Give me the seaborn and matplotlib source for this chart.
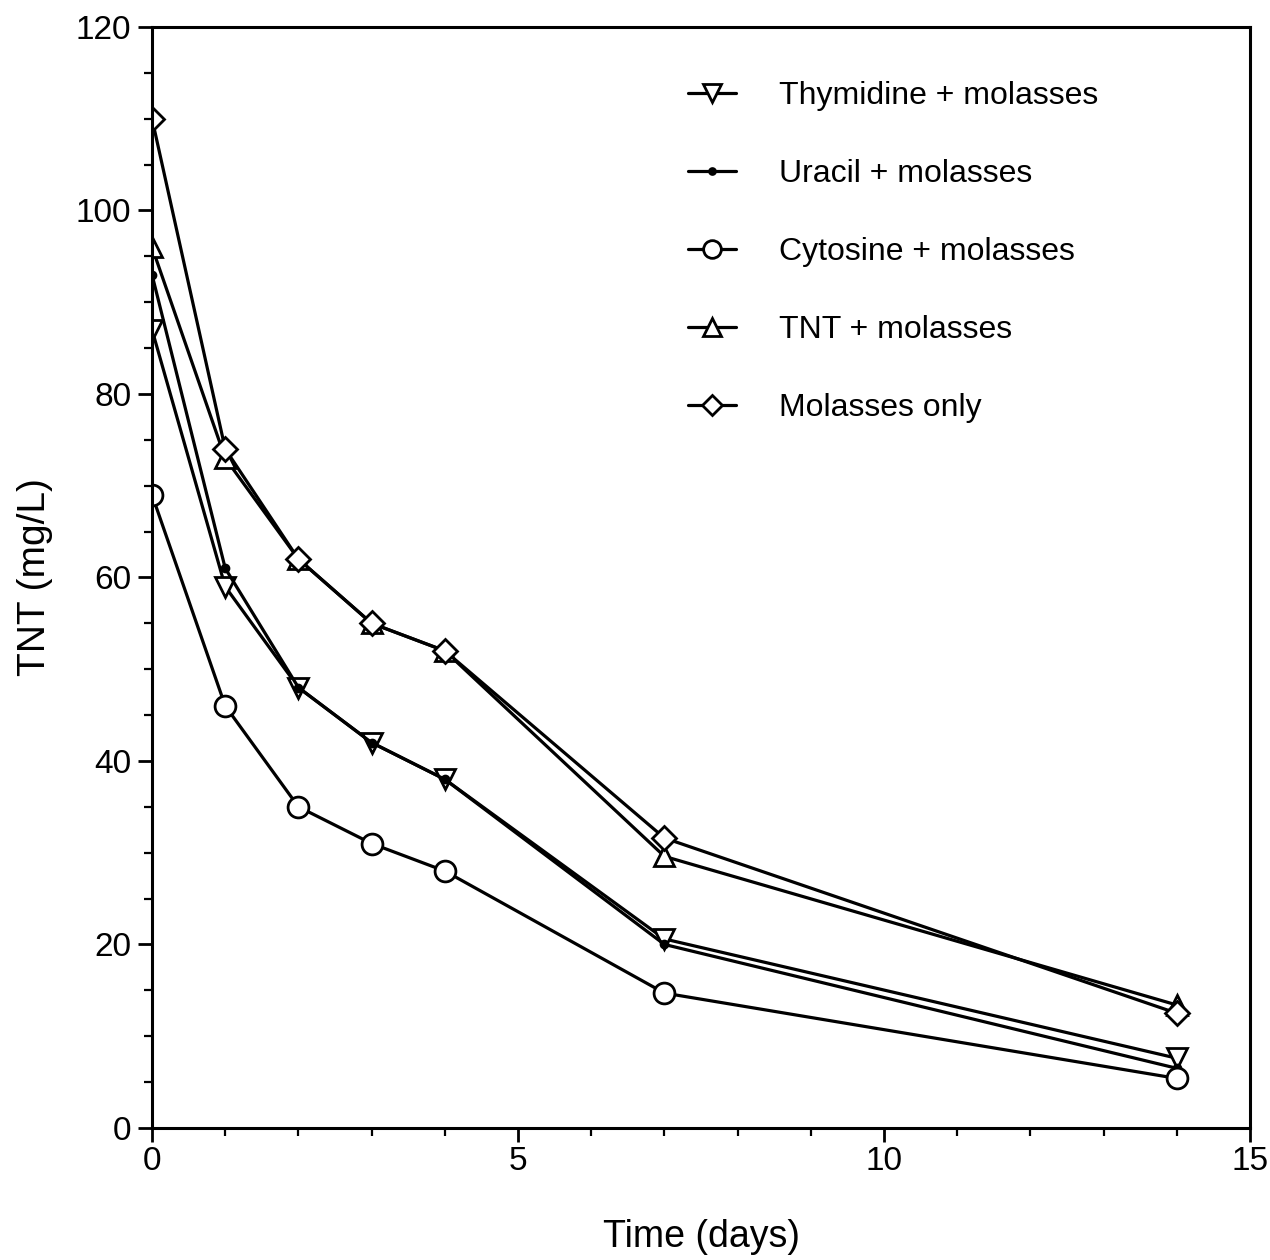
import numpy as np
import pandas as pd
import matplotlib
matplotlib.use("Agg")
import matplotlib.pyplot as plt
import seaborn as sns
from matplotlib.ticker import MultipleLocator

days = [0, 1, 2, 3, 4, 7, 14]
thymidine = [87, 59, 48, 42, 38, 20.6, 7.6]
uracil = [93, 61, 48, 42, 38, 20, 6.5]
cytosine = [69, 46, 35, 31, 28, 14.7, 5.4]
tnt = [96, 73, 62, 55, 52, 29.6, 13.4]
molasses = [110, 74, 62, 55, 52, 31.6, 12.5]

labels = ["Thymidine + molasses", "Uracil + molasses", "Cytosine + molasses",
          "TNT + molasses", "Molasses only"]
series = [thymidine, uracil, cytosine, tnt, molasses]
markers = ["v", "o", "o", "^", "D"]
msizes = [15, 5, 15, 15, 12]
mfcs = ["white", "black", "white", "white", "white"]

sns.set_theme(style="ticks")
plt.rcParams['font.family'] = ['Liberation Sans', 'DejaVu Sans']
plt.rcParams['text.color'] = 'black'
plt.rcParams['axes.labelcolor'] = 'black'
plt.rcParams['xtick.color'] = 'black'
plt.rcParams['ytick.color'] = 'black'

fig = plt.figure(figsize=(12.7, 12.6), dpi=100)
ax = fig.add_axes([0.1197, 0.1048, 0.9843 - 0.1197, 0.9786 - 0.1048])

for lab, vals, m, ms, fc in zip(labels, series, markers, msizes, mfcs):
    df = pd.DataFrame({"Time": days, "TNT": vals})
    sns.lineplot(data=df, x="Time", y="TNT", ax=ax, color="black", lw=2.3,
                 marker=m, markersize=ms, markerfacecolor=fc,
                 markeredgecolor="black", markeredgewidth=2.0, label=lab)

ax.set_xlim(0, 15)
ax.set_ylim(0, 120)
ax.xaxis.set_major_locator(MultipleLocator(5))
ax.xaxis.set_minor_locator(MultipleLocator(1))
ax.yaxis.set_major_locator(MultipleLocator(20))
ax.yaxis.set_minor_locator(MultipleLocator(5))
ax.tick_params(axis="both", which="major", direction="out", length=10, width=2,
               labelsize=24, pad=5, colors="black")
ax.tick_params(axis="x", which="major", pad=3)
ax.tick_params(axis="both", which="minor", direction="out", length=6, width=1.6)
for s in ax.spines.values():
    s.set_linewidth(2.2)
    s.set_color("black")

ax.set_xlabel("Time (days)", fontsize=27, labelpad=30)
ax.set_ylabel("TNT (mg/L)", fontsize=28, labelpad=16)

leg = ax.legend(loc="upper left", bbox_to_anchor=(0.462, 0.977), frameon=False,
                fontsize=23, handlelength=1.5, labelspacing=1.5,
                handletextpad=1.35, markerscale=0.85)
for t in leg.get_texts():
    t.set_color("black")

fig.savefig("out.png", dpi=100, facecolor="white")
